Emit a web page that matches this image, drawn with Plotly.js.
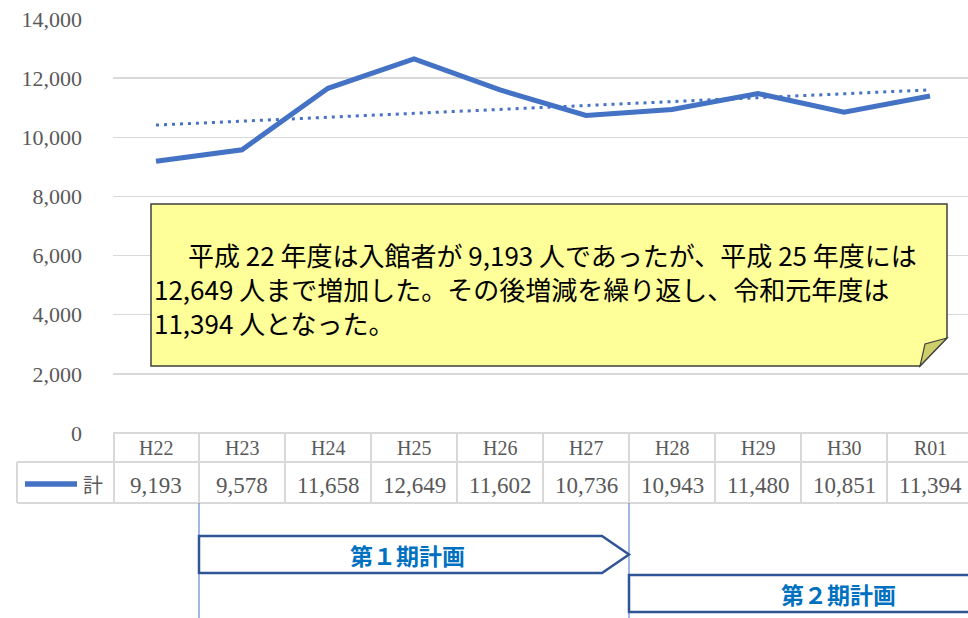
<!DOCTYPE html>
<html><head><meta charset="utf-8">
<script src="https://cdn.plot.ly/plotly-3.0.1.min.js"></script>
<style>html,body{margin:0;padding:0;background:#fff;overflow:hidden}</style>
</head><body><div id="chart" style="width:968px;height:618px"></div>
<script>
const categories = ['H22','H23','H24','H25','H26','H27','H28','H29','H30','R01'];
const visitors = [9193, 9578, 11658, 12649, 11602, 10736, 10943, 11480, 10851, 11394];
const seriesName = '計';
const yTicks = [0, 2000, 4000, 6000, 8000, 10000, 12000, 14000];
const noteLines = [
  '　平成 22 年度は入館者が 9,193 人であったが、平成 25 年度には',
  '12,649 人まで増加した。その後増減を繰り返し、令和元年度は',
  '11,394 人となった。'
];
const plans = ['第１期計画', '第２期計画'];

// linear trendline (least squares, as the spreadsheet's trendline)
const n = visitors.length;
const xs = categories.map((_, i) => i);
const mx = xs.reduce((a, b) => a + b, 0) / n;
const my = visitors.reduce((a, b) => a + b, 0) / n;
let sxy = 0, sxx = 0;
xs.forEach((x, i) => { sxy += (x - mx) * (visitors[i] - my); sxx += (x - mx) * (x - mx); });
const slope = sxy / sxx, icpt = my - slope * mx;
const trend = xs.map(x => icpt + slope * x);

const L = 113, R = 968, T = 19, B = 433;
const px = v => (v - L) / (R - L);
const py = v => (B - v) / (B - T);
const fmt = v => v.toLocaleString('en-US');

const GRID = '#d9d9d9', BLUE = '#4472C4', DARK = '#2F5597';
const serif = 'Liberation Serif, Times New Roman, serif';
const gothic = 'Noto Sans CJK JP, sans-serif';

const shapes = [];
const hline = (x0, x1, y) => shapes.push({type:'line', xref:'paper', yref:'paper', x0:px(x0), x1:px(x1), y0:py(y), y1:py(y), line:{color:GRID, width:2}});
const vlineP = (x, y0, y1) => shapes.push({type:'line', xref:'paper', yref:'paper', x0:px(x), x1:px(x), y0:py(y0), y1:py(y1), line:{color:GRID, width:2}});
// table grid
hline(L, R, 433); hline(17, R, 462); hline(17, R, 503);
vlineP(17, 462, 503); vlineP(L + 1, 433, 503);
for (let i = 0; i < n - 1; i++) {
  shapes.push({type:'line', xref:'x', yref:'paper', x0:i + 0.5, x1:i + 0.5, y0:py(433), y1:py(503), line:{color:GRID, width:2}});
}
// legend key
shapes.push({type:'line', xref:'paper', yref:'paper', x0:px(25), x1:px(77), y0:py(484), y1:py(484), line:{color:BLUE, width:5.5}});
// plan boundary lines
[0.5, 5.5].forEach(x => shapes.push({type:'line', xref:'x', yref:'paper', x0:x, x1:x, y0:py(503), y1:py(618), line:{color:BLUE, width:1}}));
// plan arrows
const notch = 27 / 86;
shapes.push({type:'path', xref:'x', yref:'paper', layer:'above',
  path:`M0.5,${py(536)} L${5.5 - notch},${py(536)} L5.5,${py(554.5)} L${5.5 - notch},${py(573)} L0.5,${py(573)} Z`,
  fillcolor:'#ffffff', line:{color:DARK, width:2.5}});
shapes.push({type:'path', xref:'x', yref:'paper', layer:'above',
  path:`M5.5,${py(575)} L11,${py(575)} L11,${py(612)} L5.5,${py(612)} Z`,
  fillcolor:'#ffffff', line:{color:DARK, width:2.5}});
// note box with folded corner
shapes.push({type:'path', xref:'paper', yref:'paper', layer:'above',
  path:`M${px(151)},${py(204)} L${px(947)},${py(204)} L${px(947)},${py(338)} L${px(920)},${py(366)} L${px(151)},${py(366)} Z`,
  fillcolor:'#FFFF99', line:{color:'#404040', width:1.5}});
shapes.push({type:'path', xref:'paper', yref:'paper', layer:'above',
  path:`M${px(947)},${py(338)} L${px(925)},${py(344)} L${px(920)},${py(366)} Z`,
  fillcolor:'#CDCD6A', line:{color:'#404040', width:1.2}});

const annotations = [];
const ann = (o) => annotations.push(Object.assign({showarrow:false, xanchor:'center', yanchor:'middle'}, o));
categories.forEach((c, i) => {
  ann({x:i, y:py(448), xref:'x', yref:'paper', text:c, font:{family:serif, size:20, color:'#595959'}});
  ann({x:i, y:py(485), xref:'x', yref:'paper', text:fmt(visitors[i]), font:{family:serif, size:23, color:'#595959'}});
});
ann({x:px(93), y:py(484), xref:'paper', yref:'paper', text:seriesName, font:{family:gothic, size:20, color:'#595959'}});
const noteX = [160, 152, 152];
const noteY = [254, 288, 323];
noteLines.forEach((t, i) => ann({x:px(noteX[i]), y:py(noteY[i]), xref:'paper', yref:'paper', xanchor:'left', text:t, font:{family:gothic, size:26, color:'#000000'}}));
ann({x:px(407), y:py(554.5), xref:'paper', yref:'paper', text:'<b>' + plans[0] + '</b>', font:{family:gothic, size:23, color:'#0070C0'}});
ann({x:px(838), y:py(593.5), xref:'paper', yref:'paper', text:'<b>' + plans[1] + '</b>', font:{family:gothic, size:23, color:'#0070C0'}});

const data = [
  {x: xs, y: visitors, type:'scatter', mode:'lines', name:seriesName, line:{color:BLUE, width:5}, hoverinfo:'skip'},
  {x: xs, y: trend, type:'scatter', mode:'lines', name:'trend', line:{color:BLUE, width:3, dash:'3px,5px'}, hoverinfo:'skip'}
];
const layout = {
  width:968, height:618,
  margin:{l:L, r:968 - R, t:T, b:618 - B, pad:0},
  paper_bgcolor:'#ffffff', plot_bgcolor:'#ffffff',
  showlegend:false,
  xaxis:{range:[-0.5, -0.5 + (R - L) / 86], showticklabels:false, showgrid:false, zeroline:false, showline:false, ticks:'', fixedrange:true},
  yaxis:{range:[0, 14000], tickvals:yTicks, ticktext:yTicks.map(fmt), showgrid:true, gridcolor:GRID, gridwidth:1.5, zeroline:false, showline:false, ticks:'', ticklabelstandoff:30, tickfont:{family:serif, size:22, color:'#595959'}, fixedrange:true},
  shapes, annotations
};
Plotly.newPlot('chart', data, layout, {staticPlot:true, displayModeBar:false});
</script></body></html>
